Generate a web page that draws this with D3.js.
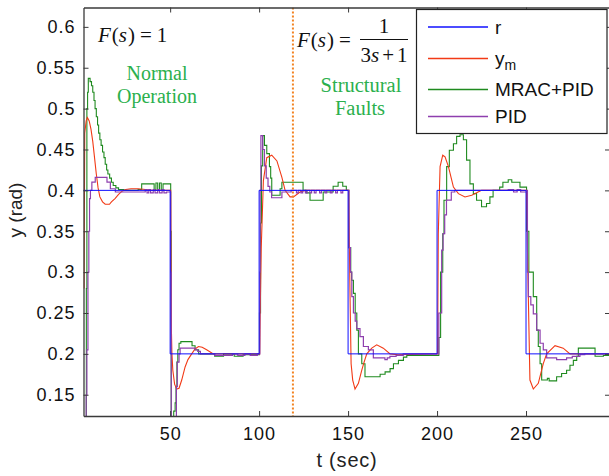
<!DOCTYPE html>
<html>
<head>
<meta charset="utf-8" />
<script src="https://d3js.org/d3.v7.min.js"></script>
<style>
  body { margin: 0; background: #fff; }
  text { font-family: "Liberation Sans", Arial, sans-serif; }
  .serif { font-family: "Liberation Serif", "Times New Roman", serif; }
</style>
</head>
<body>
<div id="chart"></div>
<script>
// ---- data ----
var xTicks = [50, 100, 150, 200, 250];
var yTicks = [0.15, 0.2, 0.25, 0.3, 0.35, 0.4, 0.45, 0.5, 0.55, 0.6];
var faultTime = 119;

// reference r : step changes
var rTimes  = [0, 50, 100, 150, 200, 250, 300];
var rLevels = [0.4, 0.2, 0.4, 0.2, 0.4, 0.2, 0.2];

// model output y_m
var ymData = [
  [1.6,0.28],[2.0,0.47],[2.8,0.485],[3.5,0.489],[4.5,0.485],[5.5,0.475],[6.5,0.46],[7.5,0.44],
  [8.5,0.42],[9.5,0.403],[10.5,0.392],[12,0.386],[13.5,0.383],[15.9,0.383],[17,0.386],[19,0.39],
  [21,0.395],[23,0.399],[25,0.401],[28,0.402],[32,0.402],[36,0.401],[40,0.4],[50,0.4],
  [50.3,0.4],[50.6,0.24],[51,0.2],[51.5,0.18],[52.5,0.163],[53.7,0.157],[55,0.158],[56.5,0.168],
  [58.4,0.184],[60,0.193],[62.1,0.2],[64,0.206],[65.9,0.209],[68,0.208],[70.5,0.205],[74.3,0.2],[100,0.2],
  [100.3,0.2],[100.6,0.25],[101.2,0.33],[102.4,0.412],[104.3,0.44],[107.1,0.443],[110,0.436],
  [112.8,0.416],[114.6,0.4],[117.4,0.392],[119.3,0.392],[123,0.398],[126,0.4],[150,0.4],
  [150.3,0.4],[150.6,0.35],[151.1,0.27],[151.7,0.188],[152.6,0.168],[153.9,0.157],[155.8,0.164],
  [157.7,0.18],[159,0.19],[160.5,0.2],[163.3,0.207],[166.1,0.211],[169.8,0.207],[173.6,0.2],[178,0.199],[200,0.2],
  [200.3,0.2],[200.7,0.347],[201.7,0.429],[203.2,0.443],[204.5,0.441],[206.4,0.429],[209.2,0.404],
  [212,0.396],[215.7,0.392],[219.5,0.394],[225,0.4],[250,0.4],
  [250.3,0.4],[250.8,0.33],[251.3,0.27],[252.2,0.168],[254.1,0.157],[256.9,0.164],[259.7,0.188],
  [261.6,0.2],[266.3,0.21],[270.9,0.207],[274.7,0.2],[298,0.2]
];

// MRAC+PID (sampled, drawn as steps)
var mracData = [
  [1.0,0.1],[2.9,0.28],[3.2,0.5],[3.6,0.52],[4.0,0.537],[5,0.533],[5.8,0.528],[6.5,0.52],[7.2,0.51],
  [7.8,0.5],[8.5,0.49],[9.2,0.48],[9.8,0.47],[10.5,0.462],[11.2,0.455],[12,0.447],[12.8,0.44],
  [13.5,0.432],[14.3,0.425],[15,0.42],[16,0.415],[17,0.41],[18,0.406],[19.5,0.403],[21,0.401],
  [24,0.4],[32,0.401],[34,0.408],[41,0.401],[42,0.409],[43,0.401],[44,0.409],[45,0.401],
  [46,0.408],[50,0.408],
  [50.3,0.35],[50.6,0.12],[52,0.13],[52.8,0.14],[53.3,0.16],[53.8,0.19],[54.3,0.205],[55,0.213],
  [56,0.215],[62.3,0.21],[64,0.205],[66,0.2],[75,0.197],[80,0.2],[86,0.197],[91,0.199],[100,0.199],
  [100.2,0.25],[100.8,0.36],[101.3,0.43],[102,0.467],[103,0.455],[104.3,0.445],[105.8,0.429],
  [106.5,0.415],[107.1,0.394],[111.8,0.402],[112.8,0.41],[124.7,0.4],[126.5,0.397],[128.6,0.388],
  [136,0.398],[141.6,0.405],[144.4,0.41],[147,0.405],[149,0.4],
  [150.4,0.33],[151.5,0.3],[152,0.29],[153,0.274],[154,0.25],[154.9,0.229],[155.8,0.2],[157.7,0.188],
  [159.5,0.172],[168,0.175],[170.8,0.178],[173.6,0.182],[175.5,0.188],[178.3,0.192],[181.1,0.196],
  [183,0.198],[200,0.198],
  [201,0.22],[202,0.3],[203.2,0.347],[203.9,0.388],[205.4,0.429],[206.9,0.449],[209.2,0.457],
  [211,0.466],[212.9,0.468],[214.8,0.462],[216.6,0.437],[218.5,0.408],[220.4,0.396],[222.2,0.388],
  [225,0.38],[227.8,0.384],[229.7,0.392],[231.5,0.4],[235.2,0.404],[237,0.41],[240,0.413],[242,0.41],
  [246.6,0.404],[250,0.404],
  [250.3,0.35],[251.6,0.3],[254.1,0.27],[256,0.229],[256.9,0.209],[257.9,0.188],[258.8,0.168],
  [262,0.17],[263,0.167],[267.2,0.172],[270,0.176],[272.8,0.18],[274.7,0.186],[276.6,0.192],
  [278.5,0.197],[279.4,0.207],[288.8,0.197],[293.5,0.198],[298,0.198]
];

// PID (sampled, drawn as steps)
var pidData = [
  [1.0,0.1],[2.8,0.15],[3.2,0.205],[3.8,0.3],[4.3,0.35],[4.7,0.39],[5.2,0.4],[6,0.41],[7.9,0.416],
  [14.5,0.41],[16.4,0.402],[19.2,0.398],[30,0.398],[36,0.401],[37,0.397],[38,0.401],[39,0.397],
  [40.5,0.401],[41.5,0.397],[43,0.401],[44,0.397],[45.5,0.401],[46.5,0.397],[48,0.398],[50,0.398],
  [50.3,0.3],[50.6,0.11],[53,0.12],[53.5,0.16],[54,0.19],[55,0.2],[55.6,0.207],[64,0.205],
  [65.5,0.203],[67,0.2],[75,0.198],[85,0.2],[88,0.198],[92,0.2],[95,0.198],[99,0.2],[100.2,0.2],
  [100.4,0.3],[100.6,0.4],[101,0.467],[102,0.45],[103,0.43],[104,0.415],[105,0.405],[106,0.398],
  [107,0.391],[112.8,0.398],[118,0.4],[121,0.397],[122,0.4],[123.5,0.397],[124.5,0.4],[126,0.397],
  [127,0.4],[128.5,0.397],[129.5,0.4],[131,0.397],[132,0.4],[134,0.397],[135,0.4],[137,0.397],
  [138,0.4],[140,0.397],[141,0.4],[143,0.397],[144,0.4],[146,0.397],[147,0.4],[150,0.4],
  [150.5,0.33],[151.3,0.3],[152.1,0.27],[153,0.25],[154,0.24],[154.9,0.231],[156.7,0.221],
  [158.6,0.209],[161.4,0.205],[164.2,0.195],[170.7,0.193],[172,0.195],[173.5,0.197],[177,0.198],
  [181,0.2],[200.3,0.2],
  [201,0.25],[202.6,0.327],[203.4,0.347],[204.3,0.37],[205.3,0.388],[208,0.398],[210,0.4],
  [240,0.401],[243,0.398],[245,0.401],[247,0.398],[250.4,0.4],
  [250.8,0.3],[251.3,0.27],[252.7,0.26],[254.1,0.249],[256,0.229],[257.9,0.213],[259.7,0.205],
  [261.6,0.195],[267.2,0.193],[272.8,0.195],[276,0.197],[280.3,0.199],[283,0.2],[298,0.2]
];

var legendNames = ["r", "y", "MRAC+PID", "PID"];
var seriesColors = ["#1010ff", "#f23a16", "#1f8a1f", "#8e3fae"];

// ---- layout ----
var W = 609, H = 476;
var pLeft = 83.5, pRight = 610, pTop = 7.5, pBottom = 416;

var svg = d3.select("#chart").append("svg")
  .attr("width", W).attr("height", H);

svg.append("rect").attr("width", W).attr("height", H).attr("fill", "#fff");

var x = d3.scaleLinear().domain([1.3, 297.2]).range([pLeft, pRight]);
var y = d3.scaleLinear().domain([0.124, 0.6237]).range([pBottom, pTop]);

svg.append("clipPath").attr("id", "clip")
  .append("rect").attr("x", pLeft).attr("y", pTop)
  .attr("width", pRight - pLeft).attr("height", pBottom - pTop);

var plot = svg.append("g").attr("clip-path", "url(#clip)");

var stepLine = d3.line().x(function(d) { return x(d[0]); }).y(function(d) { return y(d[1]); })
  .curve(d3.curveStepAfter);
var plainLine = d3.line().x(function(d) { return x(d[0]); }).y(function(d) { return y(d[1]); });

var rData = rTimes.map(function(t, i) { return [t, rLevels[i]]; });

plot.append("path").attr("d", stepLine(mracData))
  .attr("fill", "none").attr("stroke", seriesColors[2]).attr("stroke-width", 1.1);
plot.append("path").attr("d", plainLine(ymData))
  .attr("fill", "none").attr("stroke", seriesColors[1]).attr("stroke-width", 1.1);
plot.append("path").attr("d", stepLine(pidData))
  .attr("fill", "none").attr("stroke", seriesColors[3]).attr("stroke-width", 1.2);
plot.append("path").attr("d", stepLine(rData))
  .attr("fill", "none").attr("stroke", seriesColors[0]).attr("stroke-width", 1);

// fault line
plot.append("line")
  .attr("x1", x(faultTime)).attr("x2", x(faultTime))
  .attr("y1", pTop).attr("y2", pBottom)
  .attr("stroke", "#f28322").attr("stroke-width", 2).attr("stroke-dasharray", "2,2");

// axes (MATLAB box, inward ticks on all sides)
var axCol = "#3a3a3a";
svg.append("g").attr("transform", "translate(0," + pBottom + ")")
  .call(d3.axisBottom(x).tickValues(xTicks).tickSizeInner(-5).tickSizeOuter(0).tickPadding(11))
  .call(function(g) {
    g.select(".domain").attr("stroke", axCol).attr("stroke-width", 1.3);
    g.selectAll(".tick line").attr("stroke", axCol);
    g.selectAll("text").attr("font-size", 18).attr("fill", "#111")
      .attr("letter-spacing", 1).attr("font-family", "Liberation Sans, Arial, sans-serif");
  });
svg.append("g").attr("transform", "translate(0," + pTop + ")")
  .call(d3.axisTop(x).tickValues(xTicks).tickSizeInner(-5).tickSizeOuter(0).tickFormat(""))
  .call(function(g) {
    g.select(".domain").attr("stroke", axCol).attr("stroke-width", 1.3);
    g.selectAll(".tick line").attr("stroke", axCol);
  });
svg.append("g").attr("transform", "translate(" + pLeft + ",0)")
  .call(d3.axisLeft(y).tickValues(yTicks).tickSizeInner(-5).tickSizeOuter(0).tickPadding(8)
    .tickFormat(function(d) { return String(+d.toFixed(2)); }))
  .call(function(g) {
    g.select(".domain").attr("stroke", axCol).attr("stroke-width", 1.3);
    g.selectAll(".tick line").attr("stroke", axCol);
    g.selectAll("text").attr("font-size", 18).attr("fill", "#111")
      .attr("letter-spacing", 1).attr("font-family", "Liberation Sans, Arial, sans-serif");
  });
svg.append("g").attr("transform", "translate(" + pRight + ",0)")
  .call(d3.axisRight(y).tickValues(yTicks).tickSizeInner(-5).tickSizeOuter(0).tickFormat(""))
  .call(function(g) {
    g.select(".domain").attr("stroke", axCol);
    g.selectAll(".tick line").attr("stroke", axCol);
  });

// axis labels
svg.append("text").attr("x", 347).attr("y", 467).attr("text-anchor", "middle")
  .attr("font-size", 20).attr("letter-spacing", 0.8).attr("fill", "#222").text("t (sec)");
svg.append("text").attr("transform", "translate(22,210) rotate(-90)").attr("text-anchor", "middle")
  .attr("font-size", 19).attr("fill", "#222").text("y (rad)");

// annotations
var green = "#2bb04d";
var f1 = svg.append("text").attr("class", "serif").attr("x", 98).attr("y", 42)
  .attr("font-size", 21).attr("fill", "#111");
f1.append("tspan").attr("font-style", "italic").text("F");
f1.append("tspan").attr("dx", 1).text("(");
f1.append("tspan").attr("font-style", "italic").text("s");
f1.append("tspan").attr("dx", 1).text(")");
f1.append("tspan").attr("dx", 5).text("=");
f1.append("tspan").attr("dx", 5).text("1");

svg.append("text").attr("class", "serif").attr("x", 157).attr("y", 80).attr("text-anchor", "middle")
  .attr("font-size", 20).attr("fill", green).text("Normal");
svg.append("text").attr("class", "serif").attr("x", 157).attr("y", 103).attr("text-anchor", "middle")
  .attr("font-size", 20).attr("fill", green).text("Operation");

var f2 = svg.append("text").attr("class", "serif").attr("x", 297).attr("y", 47)
  .attr("font-size", 21).attr("fill", "#111");
f2.append("tspan").attr("font-style", "italic").text("F");
f2.append("tspan").attr("dx", 1).text("(");
f2.append("tspan").attr("font-style", "italic").text("s");
f2.append("tspan").attr("dx", 1).text(")");
f2.append("tspan").attr("dx", 5).text("=");
svg.append("text").attr("class", "serif").attr("x", 384).attr("y", 33).attr("text-anchor", "middle")
  .attr("font-size", 21).attr("fill", "#111").text("1");
svg.append("line").attr("x1", 360).attr("x2", 408).attr("y1", 39.5).attr("y2", 39.5)
  .attr("stroke", "#111").attr("stroke-width", 1.2);
var den = svg.append("text").attr("class", "serif").attr("x", 384).attr("y", 62).attr("text-anchor", "middle")
  .attr("font-size", 21).attr("fill", "#111");
den.append("tspan").text("3");
den.append("tspan").attr("font-style", "italic").text("s");
den.append("tspan").attr("dx", 3).text("+");
den.append("tspan").attr("dx", 3).text("1");

svg.append("text").attr("class", "serif").attr("x", 361).attr("y", 92).attr("text-anchor", "middle")
  .attr("font-size", 20.5).attr("fill", green).text("Structural");
svg.append("text").attr("class", "serif").attr("x", 360).attr("y", 115).attr("text-anchor", "middle")
  .attr("font-size", 20.5).attr("fill", green).text("Faults");

// legend
var lg = svg.append("g");
lg.append("rect").attr("x", 416.5).attr("y", 9.5).attr("width", 190.5).attr("height", 124)
  .attr("fill", "#fff").attr("stroke", "#222").attr("stroke-width", 1.2);
var rowY = [27, 58.5, 89.5, 116.5];
legendNames.forEach(function(name, i) {
  lg.append("line").attr("x1", 428).attr("x2", 488).attr("y1", rowY[i]).attr("y2", rowY[i])
    .attr("stroke", seriesColors[i]).attr("stroke-width", 1.3);
  var t = lg.append("text").attr("x", 495).attr("y", rowY[i] + 6.5)
    .attr("font-size", 19).attr("fill", "#111");
  t.append("tspan").text(name);
  if (name === "y") {
    t.append("tspan").attr("font-size", 14).attr("dy", 5).text("m");
  }
});
</script>
</body>
</html>
